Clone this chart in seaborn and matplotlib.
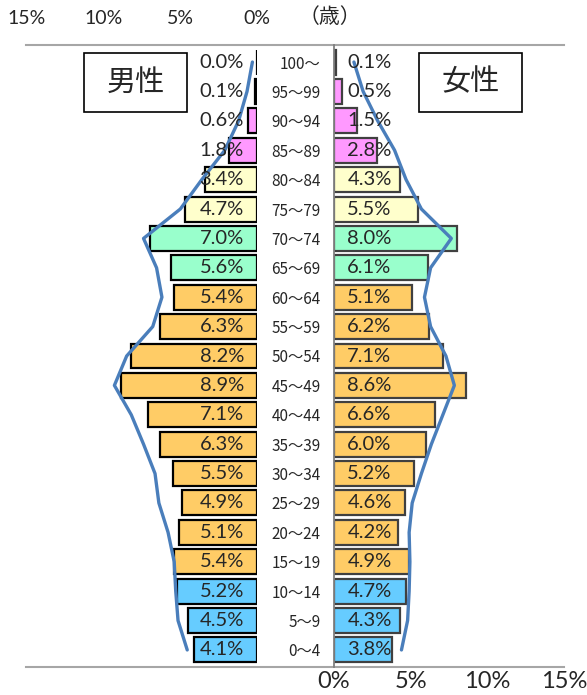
import numpy as np
import matplotlib
matplotlib.use("Agg")
import matplotlib.pyplot as plt
from matplotlib.patches import Rectangle
import seaborn as sns

ages = ["100～", "95～99", "90～94", "85～89", "80～84", "75～79", "70～74",
        "65～69", "60～64", "55～59", "50～54", "45～49", "40～44", "35～39",
        "30～34", "25～29", "20～24", "15～19", "10～14", "5～9", "0～4"]
male = [0.0, 0.1, 0.6, 1.8, 3.4, 4.7, 7.0, 5.6, 5.4, 6.3, 8.2,
        8.9, 7.1, 6.3, 5.5, 4.9, 5.1, 5.4, 5.2, 4.5, 4.1]
female = [0.1, 0.5, 1.5, 2.8, 4.3, 5.5, 8.0, 6.1, 5.1, 6.2, 7.1,
          8.6, 6.6, 6.0, 5.2, 4.6, 4.2, 4.9, 4.7, 4.3, 3.8]
# blue reference line
male_line = [0.3, 0.65, 1.2, 2.1, 3.6, 5.0, 7.4, 6.55, 6.2, 6.8, 8.5,
             9.3, 8.2, 7.4, 6.65, 6.4, 5.8, 5.4, 5.3, 5.15, 4.55]
female_line = [1.3, 1.9, 2.85, 3.95, 4.7, 5.7, 7.65, 6.3, 5.9, 6.3, 7.3,
               7.85, 7.1, 6.35, 5.7, 5.1, 4.9, 4.95, 4.9, 4.8, 4.4]
age_colors = (["#ff99ff"] * 4 + ["#ffffcc"] * 2 + ["#99ffcc"] * 2
              + ["#ffcc66"] * 10 + ["#66ccff"] * 3)
top_ticks = [15, 10, 5, 0]
bottom_ticks = [0, 5, 10, 15]

W, H = 587, 695
LINE_COLOR = "#4a7ebb"
AXIS_GRAY = "#a6a6a6"

sns.set_style("white")
plt.rcParams["font.family"] = ["Lato", "Noto Sans CJK JP", "DejaVu Sans"]


def fx(px):
    return px / W


def fy(py):
    return 1 - py / H


def main() -> None:
    fig = plt.figure(figsize=(W / 100, H / 100), dpi=100)
    n = len(ages)
    ylim = (n - 1 + 0.58, -0.58)
    palette = dict(zip(ages, age_colors))

    # frame lines across the full width
    ax_bg = fig.add_axes([fx(26), fy(667), fx(564) - fx(26), 622 / H])
    for side in ["left", "right"]:
        ax_bg.spines[side].set_visible(False)
    for side in ["top", "bottom"]:
        ax_bg.spines[side].set_color(AXIS_GRAY)
        ax_bg.spines[side].set_linewidth(1.5)
    ax_bg.set_xlim(0, 1)
    ax_bg.set_xticks([0])
    ax_bg.set_xticklabels([""])
    ax_bg.set_yticks([])
    ax_bg.tick_params(axis="x", length=5, width=1.2, color=AXIS_GRAY, direction="out")

    ax_m = fig.add_axes([fx(27), fy(667), fx(257) - fx(27), 622 / H])
    ax_f = fig.add_axes([fx(334), fy(667), fx(564) - fx(334), 622 / H])
    for ax in (ax_m, ax_f):
        ax.set_facecolor("none")

    sns.barplot(x=male, y=ages, hue=ages, palette=palette, legend=False, saturation=1,
                orient="h", width=0.85, edgecolor="black", linewidth=1.6, ax=ax_m)
    sns.barplot(x=female, y=ages, hue=ages, palette=palette, legend=False, saturation=1,
                orient="h", width=0.85, edgecolor="#404040", linewidth=1.6, ax=ax_f)

    sns.lineplot(x=male_line, y=np.arange(n), orient="y", sort=False,
                 color=LINE_COLOR, linewidth=2.4, ax=ax_m)
    sns.lineplot(x=female_line, y=np.arange(n), orient="y", sort=False,
                 color=LINE_COLOR, linewidth=2.4, ax=ax_f)

    for i, v in enumerate(male):
        ax_m.text(0.85, i, f"{v:.1f}%", ha="right", va="center", fontsize=14.5)
    for i, v in enumerate(female):
        ax_f.text(0.87, i, f"{v:.1f}%", ha="left", va="center", fontsize=14.5)

    # male axis: labels on top
    ax_m.set_xlim(15, 0)
    ax_m.set_ylim(*ylim)
    ax_m.xaxis.tick_top()
    ax_m.set_xticks(top_ticks)
    ax_m.set_xticklabels([f"{t}%" for t in top_ticks], fontsize=14)
    ax_m.tick_params(axis="x", length=0, pad=13)
    ax_m.tick_params(axis="y", left=False, labelleft=False)
    ax_m.set_xlabel("")
    ax_m.set_ylabel("")
    for side in ax_m.spines:
        ax_m.spines[side].set_visible(False)

    # female axis: age labels on the left, percent labels at the bottom
    ax_f.set_xlim(0, 15)
    ax_f.set_ylim(*ylim)
    ax_f.set_xticks(bottom_ticks)
    ax_f.set_xticklabels([f"{t}%" for t in bottom_ticks], fontsize=17)
    ax_f.tick_params(axis="x", length=0, pad=3)
    ax_f.set_yticks(np.arange(n))
    ax_f.set_yticklabels(ages, fontsize=11, family=["Noto Sans CJK JP", "DejaVu Sans"])
    ax_f.set_yticks(np.arange(-0.5, n, 1), minor=True)
    ax_f.tick_params(axis="y", which="major", length=0, pad=9.5)
    ax_f.tick_params(axis="y", which="minor", length=2.5, width=1, color="#808080",
                     direction="out")
    ax_f.set_xlabel("")
    ax_f.set_ylabel("")
    for side in ["top", "right", "bottom"]:
        ax_f.spines[side].set_visible(False)
    ax_f.spines["left"].set_color("#808080")
    ax_f.spines["left"].set_linewidth(1.3)

    fig.text(fx(330), fy(17), "（歳）", ha="center", va="center", fontsize=15,
             family=["Noto Sans CJK JP", "DejaVu Sans"])

    # sex boxes
    for label, (x0, y0, x1, y1) in [("男性", (84, 53, 187, 112)), ("女性", (419, 53, 522, 112))]:
        fig.add_artist(Rectangle((fx(x0), fy(y1)), fx(x1) - fx(x0), (y1 - y0) / H,
                                 transform=fig.transFigure, facecolor="white",
                                 edgecolor="black", linewidth=1.2))
        fig.text(fx((x0 + x1) / 2), fy((y0 + y1) / 2), label, ha="center", va="center",
                 fontsize=21, family=["Noto Sans CJK JP", "DejaVu Sans"])

    fig.savefig("out.png", dpi=100, facecolor="white")
    plt.close(fig)


if __name__ == "__main__":
    main()
